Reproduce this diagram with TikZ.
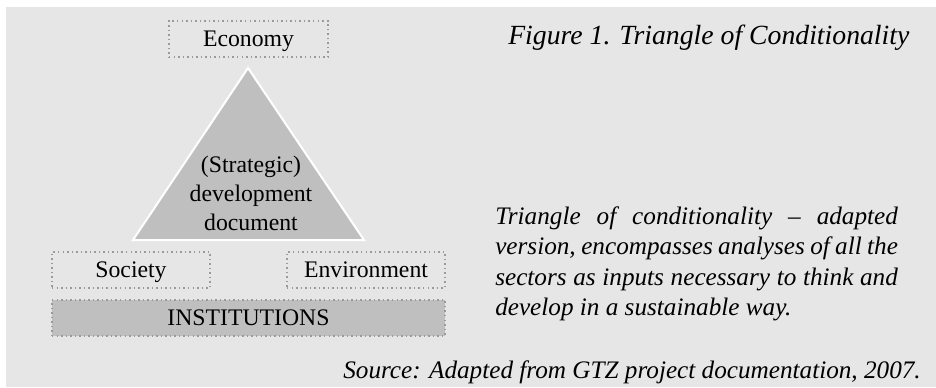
\documentclass[tikz,border=0pt]{standalone}
\usepackage{fontspec}
\setmainfont{Liberation Serif}
\definecolor{bgc}{HTML}{E6E6E6}
\definecolor{shade}{HTML}{BFBFBF}
\definecolor{dotgray}{HTML}{9A9A9A}
\begin{document}
\begin{tikzpicture}[x=0.75pt,y=-0.75pt,
  txt/.style={font=\fontsize{17.8}{21.4}\selectfont},
  itxt/.style={font=\fontsize{18.9}{22.9}\selectfont\itshape},
  ttxt/.style={font=\fontsize{20.8}{24}\selectfont\itshape},
  dotbox/.style={draw=dotgray, line width=1.1pt, dash pattern=on 1.1pt off 2.3pt,
    minimum width=#1, minimum height=27pt, inner sep=0pt,
    text height=13.5pt, text depth=2.25pt, txt}]
\useasboundingbox (0,0) rectangle (936,387);
\fill[bgc] (6,7) rectangle (936,387);
% triangle
\coordinate (apex) at (248,68);
\coordinate (bl) at (133,240);
\coordinate (br) at (364,240);
\filldraw[fill=shade, draw=white, line width=1.5pt] (apex) -- (bl) -- (br) -- cycle;
\node[txt, align=center, anchor=base, inner sep=0pt] (tri) at (251,230)
  {(Strategic)\\development\\document};
% boxes
\node[dotbox=119.25pt] (eco) at (248.5,39) {Economy};
\node[dotbox=118.5pt] (soc) at (131,270) {Society};
\node[dotbox=118.5pt] (env) at (366,270) {Environment};
\node[dotbox=294.75pt, fill=shade] (inst) at (248.5,318) {INSTITUTIONS};
% texts
\node[ttxt, anchor=base west, inner sep=0pt] (title) at (508,44.5)
  {Figure 1. Triangle of Conditionality};
\node[itxt, anchor=base west, inner sep=0pt, text width=302pt, align=justify] (para) at (495,224)
  {\hyphenpenalty=10000 Triangle of conditionality -- adapted\linebreak
   version, encompasses analyses of all the\linebreak
   sectors as inputs necessary to think and\linebreak
   develop in a sustainable way.};
\node[itxt, anchor=base east, inner sep=0pt] (src) at (921,378)
  {Source: Adapted from GTZ project documentation, 2007.};
\end{tikzpicture}
\end{document}
